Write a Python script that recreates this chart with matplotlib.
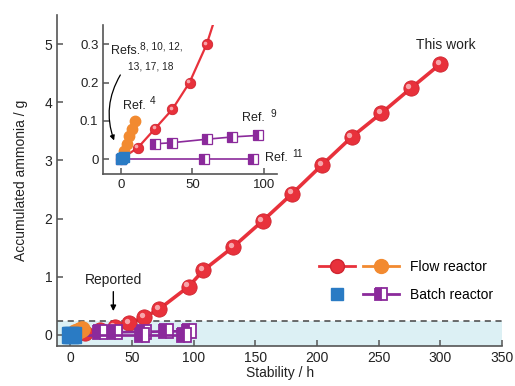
import matplotlib
matplotlib.use("Agg")
import matplotlib.pyplot as plt
from matplotlib.lines import Line2D
from matplotlib.legend_handler import HandlerTuple
from matplotlib.transforms import offset_copy

plt.rcParams['font.family'] = ['Liberation Sans', 'DejaVu Sans']

# This work (flow reactor)
work_h = [0, 12, 24, 36, 48, 60, 72, 96, 108, 132, 156, 180, 204, 228, 252, 276, 300]
work_g = [0, 0.03, 0.08, 0.13, 0.20, 0.30, 0.44, 0.83, 1.11, 1.51, 1.96, 2.43, 2.92, 3.40, 3.81, 4.24, 4.66]

# Ref. 4 (flow reactor)
ref4_h = [2, 4, 6, 8, 10]
ref4_g = [0.02, 0.04, 0.06, 0.08, 0.10]

# Refs. 8, 10, 12, 13, 17, 18 (batch)
refs_h = [0, 1, 2]
refs_g = [0, 0.003, 0.005]

# Ref. 9 and Ref. 11 (batch)
ref9_h = [24, 36, 60, 78, 96]
ref9_g = [0.040, 0.043, 0.052, 0.058, 0.062]
ref11_h = [0, 58, 92]
ref11_g = [0, 0, 0]

reported_level = 0.235

RED = '#e8313b'
RED_EDGE = '#cf2530'
HILITE = '#f9b3b7'
ORANGE = '#f28a30'
BLUE = '#2a7bc4'
PURPLE = '#8b2a9b'
BAND = '#dcf0f4'
SPINE = '#555555'

fig = plt.figure(figsize=(5.15, 3.86), dpi=100)
ax = fig.add_axes([0.111, 0.104, 0.864, 0.857])


def style_axes(a, size):
    for s in ['top', 'right']:
        a.spines[s].set_visible(False)
    for s in ['left', 'bottom']:
        a.spines[s].set_color(SPINE)
        a.spines[s].set_linewidth(1.2)
    a.tick_params(direction='in', length=4, width=1.1, color=SPINE,
                  labelsize=size, labelcolor='#222222')


def draw_series(a, ms, lw, big=True):
    k = 1.0 if big else 0.7
    a.plot(work_h, work_g, color=RED, lw=lw, marker='o', ms=ms,
           mfc=RED, mec=RED_EDGE, mew=0.6, zorder=3)
    hl = offset_copy(a.transData, fig=fig, x=-ms * 0.15, y=ms * 0.15, units='points')
    a.plot(work_h, work_g, ls='none', marker='o', ms=ms * 0.35,
           mfc=HILITE, mec='none', alpha=0.9, transform=hl, zorder=3.1)
    a.plot(ref9_h, ref9_g, color=PURPLE, lw=lw * 0.75, marker='s', ms=ms * 0.9,
           fillstyle='left', mfc=PURPLE, mfcalt='white', mec=PURPLE, mew=1.3 * k, zorder=4)
    a.plot(ref11_h, ref11_g, color=PURPLE, lw=lw * 0.75, marker='s', ms=ms * 0.9,
           fillstyle='left', mfc=PURPLE, mfcalt='white', mec=PURPLE, mew=1.3 * k, zorder=4)
    a.plot(ref4_h, ref4_g, color=ORANGE, lw=lw, marker='o', ms=ms,
           mfc=ORANGE, mec=ORANGE, zorder=5)
    a.plot(refs_h, refs_g, ls='none', marker='s', ms=ms * 1.05,
           mfc=BLUE, mec=BLUE, zorder=6)


# main axes
ax.axhspan(-0.2, reported_level, color=BAND, lw=0, zorder=0)
ax.axhline(reported_level, color='#444444', lw=1.1, ls=(0, (4, 3)), zorder=1)
draw_series(ax, 11, 2.6)
ax.set_xlim(-10.5, 350)
ax.set_ylim(-0.19, 5.5)
ax.set_xticks([0, 50, 100, 150, 200, 250, 300, 350])
ax.set_yticks([0, 1, 2, 3, 4, 5])
style_axes(ax, 10)
ax.set_xlabel('Stability / h', fontsize=10, color='#222222', labelpad=1)
ax.set_ylabel('Accumulated ammonia / g', fontsize=10, color='#222222', labelpad=12)

ax.text(304, 4.98, 'This work', ha='center', va='center', fontsize=10, color='#222222')
ax.text(35, 0.95, 'Reported', ha='center', va='center', fontsize=10, color='#222222')
ax.annotate('', xy=(35, 0.36), xytext=(35, 0.79),
            arrowprops=dict(arrowstyle='-|>', color='black', lw=1, mutation_scale=8))

# legend
h_red = Line2D([], [], color=RED, lw=2, marker='o', ms=10, mfc=RED, mec=RED_EDGE)
h_orange = Line2D([], [], color=ORANGE, lw=2, marker='o', ms=10, mfc=ORANGE, mec=ORANGE)
h_blue = Line2D([], [], ls='none', marker='s', ms=9, mfc=BLUE, mec=BLUE)
h_purple = Line2D([], [], color=PURPLE, lw=2, marker='s', ms=9, fillstyle='left',
                  mfc=PURPLE, mfcalt='white', mec=PURPLE, mew=1.3)
fig.legend(handles=[(h_red, h_orange), (h_blue, h_purple)],
           labels=['Flow reactor', 'Batch reactor'],
           handler_map={tuple: HandlerTuple(ndivide=None, pad=0.6)},
           handlelength=5.8, handletextpad=0.8, labelspacing=1.0,
           frameon=False, fontsize=10, loc='center left',
           bbox_to_anchor=(0.608, 0.272), borderaxespad=0)

# inset
ins = fig.add_axes([0.2006, 0.549, 0.337, 0.386])
ins.set_facecolor('white')
draw_series(ins, 7.5, 1.6, big=False)
ins.set_xlim(-12.2, 109)
ins.set_ylim(-0.039, 0.35)
ins.set_xticks([0, 50, 100])
ins.set_yticks([0, 0.1, 0.2, 0.3])
ins.set_yticklabels(['0', '0.1', '0.2', '0.3'])
style_axes(ins, 9.5)

tc = '#222222'
ins.text(-6.5, 0.283, 'Refs.', fontsize=9, va='center', color=tc)
ins.text(13.5, 0.294, '8, 10, 12,', fontsize=7.3, va='center', color=tc)
ins.text(5.1, 0.243, '13, 17, 18', fontsize=7.3, va='center', color=tc)
ins.text(1.6, 0.139, 'Ref.', fontsize=9, va='center', color=tc)
ins.text(20.5, 0.152, '4', fontsize=7.3, va='center', color=tc)
ins.text(85, 0.107, 'Ref.', fontsize=9, va='center', color=tc)
ins.text(104.5, 0.119, '9', fontsize=7.3, va='center', color=tc)
ins.text(100.5, 0.003, 'Ref.', fontsize=9, va='center', color=tc)
ins.text(120, 0.014, '11', fontsize=7.3, va='center', color=tc)
ins.annotate('', xy=(-4, 0.042), xytext=(0.7, 0.226),
             arrowprops=dict(arrowstyle='-|>', color='black', lw=0.9, mutation_scale=7,
                             connectionstyle='arc3,rad=0.25'))

fig.savefig('out.png', dpi=100)
